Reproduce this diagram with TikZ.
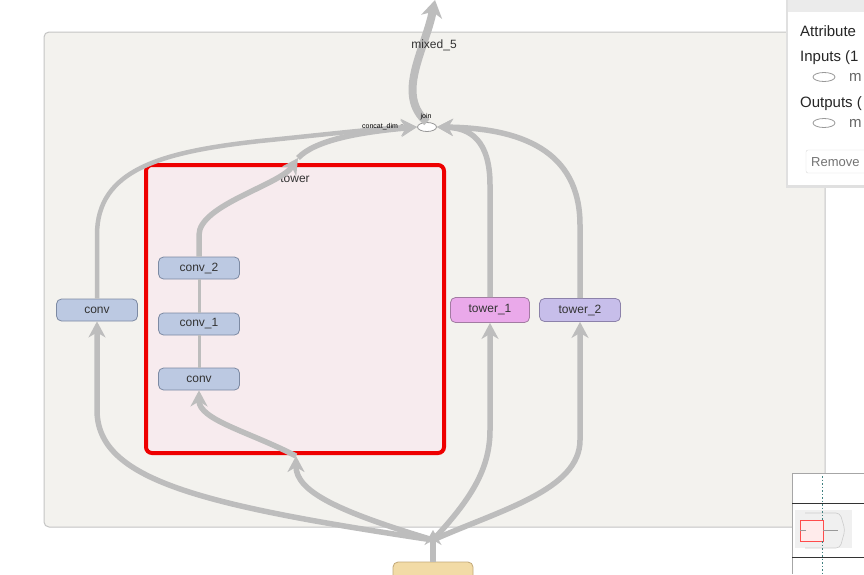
\documentclass[tikz,border=0pt]{standalone}
\usepackage{fontspec}
\setmainfont{Liberation Sans}
\usetikzlibrary{arrows.meta,shapes.geometric}
\definecolor{panelfill}{HTML}{F3F2EE}
\definecolor{panelline}{HTML}{C4C4C4}
\definecolor{edgec}{HTML}{BDBDBD}
\definecolor{convfill}{HTML}{BCC9E2}
\definecolor{convline}{HTML}{7D8AA3}
\definecolor{tonefill}{HTML}{EAA9EA}
\definecolor{toneline}{HTML}{A27BA2}
\definecolor{ttwofill}{HTML}{C7BEEA}
\definecolor{ttwoline}{HTML}{8C82AA}
\definecolor{towerfill}{HTML}{F7EBEE}
\definecolor{towerline}{HTML}{EE0000}
\definecolor{inpfill}{HTML}{F2DBA6}
\definecolor{inpline}{HTML}{C2A878}
\definecolor{txt}{HTML}{333333}
\tikzset{
  opnode/.style={rounded corners=5pt, minimum width=81pt, minimum height=22pt, inner sep=0pt, line width=0.8pt, font=\fontsize{12}{14}\selectfont, text=txt},
  convbox/.style={opnode, fill=convfill, draw=convline},
  edge/.style={draw=edgec, line width=5.5pt, -{Stealth[width=17pt,length=16pt,inset=5pt]}},
  thinedge/.style={draw=edgec, line width=3pt},
  plainedge/.style={draw=edgec, line width=5pt},
  paneltxt/.style={font=\fontsize{15}{17}\selectfont, text=black!85, anchor=west, inner sep=0pt},
  tinytxt/.style={font=\fontsize{7}{8}\selectfont, text=black, inner sep=1pt},
}
\begin{document}
\begin{tikzpicture}[x=1pt,y=-1pt]
\useasboundingbox (0,0) rectangle (864,574);
\fill[white] (0,0) rectangle (864,574);
% main panel
\draw[fill=panelfill, draw=panelline, line width=1pt, rounded corners=5pt] (44,32) rectangle (825,527);
% tower box
\draw[fill=towerfill, draw=towerline, line width=4pt, rounded corners=6pt] (146,165) rectangle (444,453);
\coordinate (towtop) at (298,158);
\coordinate (towbot) at (296,456);
\node[font=\fontsize{12}{14}\selectfont, text=txt] (towlabel) at (295,179) {tower};
% nodes
\node[convbox] (convL) at (97,310) {conv};
\node[convbox] (conv2) at (199,268) {conv\_2};
\node[convbox] (conv1) at (199,324) {conv\_1};
\node[convbox] (conv0) at (199,379) {conv};
\node[opnode, minimum width=79pt, minimum height=25pt, fill=tonefill, draw=toneline] (tone) at (490,310) {tower\_1};
\node[opnode, fill=ttwofill, draw=ttwoline, minimum height=23pt] (ttwo) at (580,310) {tower\_2};
\node[draw=edgec!80!black, fill=white, ellipse, minimum width=19pt, minimum height=9pt, inner sep=0pt, line width=0.8pt] (join) at (427,127) {};
\node[draw=edgec!80!black, fill=white, circle, minimum size=5pt, inner sep=0pt, line width=0.6pt] (cdim) at (402,127) {};
\node[rounded corners=5pt, minimum width=80pt, minimum height=26pt, fill=inpfill, draw=inpline, line width=0.8pt, inner sep=0pt] (inp) at (433,575) {};
\coordinate (hub) at (433,540);
\coordinate (stemtip) at (433,530);
\coordinate (outtop) at (435,0);
% edges from input
\draw[plainedge, line width=6pt, -{Stealth[width=17pt,length=15pt,inset=5pt]}] (inp.north) -- (stemtip);
\draw[edge] (hub) .. controls (200,505) and (97,480) .. (97,410) -- (convL.south);
\draw[edge] (hub) .. controls (340,512) and (296,492) .. (towbot);
\draw[edge] (hub) .. controls (470,500) and (490,470) .. (490,430) -- (tone.south);
\draw[edge] (hub) .. controls (500,510) and (580,490) .. (580,440) -- (ttwo.south);
% inside tower
\draw[edge] (towbot) .. controls (250,432) and (199,420) .. (conv0.south);
\draw[thinedge] (conv0.north) -- (conv1.south);
\draw[thinedge] (conv1.north) -- (conv2.south);
% to join
\draw[edge, line width=4.5pt] (convL.north) -- (97,235) .. controls (97,170) and (160,152) .. (260,141) .. controls (330,134) and (380,128) .. (join.west);
\draw[edge] (towtop) .. controls (315,140) and (360,132) .. (join.west);
\draw[edge] (conv2.north) -- (199,235) .. controls (199,205) and (280,185) .. (towtop);
\draw[edge] (tone.north) -- (490,185) .. controls (490,140) and (470,128) .. (join.east);
\draw[edge] (ttwo.north) -- (580,225) .. controls (580,150) and (520,128) .. (join.east);
\draw[edge, line width=8pt, -{Stealth[width=21pt,length=17pt,inset=5pt]}] (join.north) .. controls (395,95) and (425,50) .. (outtop);
% labels over edges
\node[font=\fontsize{12}{14}\selectfont, text=txt] (mixlabel) at (434,45) {mixed\_5};
\node[tinytxt] (joinlabel) at (426,117) {join};
\node[tinytxt, anchor=east] (cdimlabel) at (cdim.west) {concat\_dim};
% info panel
\fill[black!12] (786,-2) rectangle (864,188);
\fill[white] (788,0) rectangle (864,185);
\fill[black!8] (788,0) rectangle (864,12);
\node[paneltxt] (attr) at (800,31) {Attribute};
\node[paneltxt] (inputs) at (800,58) {Inputs (1};
\node[draw=black!40, ellipse, minimum width=22pt, minimum height=9pt, inner sep=0pt, line width=0.8pt] (inell) at (824,77) {};
\node[paneltxt, text=black!60] (inm) at (849,77) {m};
\node[paneltxt] (outputs) at (800,104) {Outputs (};
\node[draw=black!40, ellipse, minimum width=22pt, minimum height=9pt, inner sep=0pt, line width=0.8pt] (outell) at (824,123) {};
\node[paneltxt, text=black!60] (outm) at (849,123) {m};
\draw[black!15, fill=white, rounded corners=2pt] (806,150) rectangle (875,173);
\node[font=\fontsize{13}{15}\selectfont, text=black!55, anchor=west, inner sep=0pt] (remove) at (811,162) {Remove};
% minimap
\fill[white] (792,473) rectangle (864,574);
\draw[black!35, line width=0.8pt] (864,473) -- (792,473) -- (792,574);
\fill[black!6] (795,510) rectangle (852,548);
\draw[black!80, line width=1pt] (792,503) -- (864,503);
\draw[black!80, line width=1pt] (792,557) -- (864,557);
\draw[black!20, line width=0.6pt, rounded corners=4pt] (805,513) -- (840,513) -- (845,530) -- (840,548) -- (805,548);
\draw[red!70, fill=red!8, line width=0.8pt] (800,520) rectangle (823,541);
\draw[teal!50!gray, line width=0.8pt, dash pattern=on 1.5pt off 2pt] (822,476) -- (822,520);
\draw[teal!50!gray, line width=0.8pt, dash pattern=on 1.5pt off 2pt] (822,541) -- (822,574);
\draw[black!40, line width=0.6pt] (806,530) -- (800,530) (823,530) -- (838,530);
\end{tikzpicture}
\end{document}
